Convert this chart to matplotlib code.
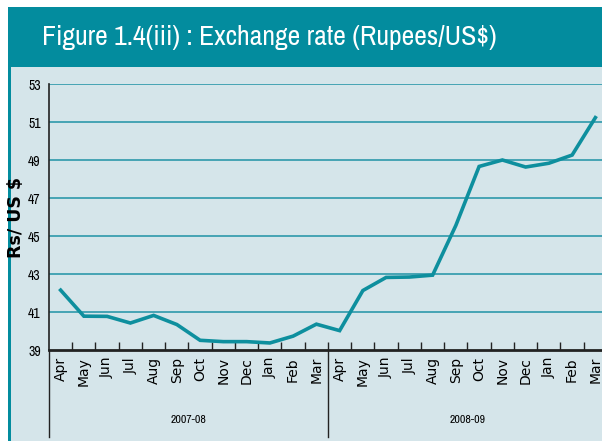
import matplotlib
matplotlib.use('Agg')
import matplotlib.pyplot as plt
from matplotlib.patches import Rectangle
from matplotlib import font_manager
import matplotlib.transforms as mtransforms

# Data
MONTHS = ['Apr', 'May', 'Jun', 'Jul', 'Aug', 'Sep',
          'Oct', 'Nov', 'Dec', 'Jan', 'Feb', 'Mar']
YEARS = ['2007-08', '2008-09']
RATE_0708 = [42.15, 40.78, 40.77, 40.42, 40.82, 40.34,
             39.51, 39.44, 39.44, 39.37, 39.73, 40.36]
RATE_0809 = [40.02, 42.13, 42.82, 42.84, 42.94, 45.56,
             48.66, 49.00, 48.63, 48.83, 49.26, 51.23]
Y_TICKS = [39, 41, 43, 45, 47, 49, 51, 53]

TEAL = '#038C9E'
PANEL = '#D5E5EA'
GRID = '#3A9FB0'
LINE = '#0E8F9E'

# narrow font if there is one
names = set(f.name for f in font_manager.fontManager.ttflist)
narrow = sorted(n for n in names if 'Narrow' in n or 'Condensed' in n)
NARROW = (narrow[:1] or ['Liberation Sans']) + ['DejaVu Sans']

W, H = 602, 441
fig = plt.figure(figsize=(W / 100, H / 100), dpi=100)
fig.patch.set_facecolor('white')

# panel + banner
fig.patches.append(Rectangle((9 / W, 0), 1, 1 - 67 / H, transform=fig.transFigure,
                             facecolor=PANEL, edgecolor='none', zorder=-5))
fig.patches.append(Rectangle((8 / W, 0), 3 / W, 1 - 67 / H, transform=fig.transFigure,
                             facecolor=TEAL, edgecolor='none', zorder=-5))
fig.patches.append(Rectangle((8 / W, 1 - 67 / H), 1, 60 / H, transform=fig.transFigure,
                             facecolor=TEAL, edgecolor='none', zorder=-5))
fig.text(42 / W, 1 - 37 / H, 'Figure 1.4(iii) : Exchange rate (Rupees/US$)',
         color='white', fontsize=20, family=NARROW, va='center', ha='left')

# axes
ax = fig.add_axes([49 / W, (H - 350) / H, 558 / W, 266 / H])
ax.set_zorder(2)
ax.set_facecolor('none')

values = RATE_0708 + RATE_0809
labels = MONTHS + MONTHS
xs = list(range(len(values)))
ax.plot(xs, values, color=LINE, lw=2.6, solid_joinstyle='miter', zorder=3)

ax.set_xlim(-0.5, len(values) - 0.5)
ax.set_ylim(39, 53)
ax.set_yticks(Y_TICKS)
ax.set_yticklabels([str(t) for t in Y_TICKS], family=NARROW, fontsize=10)
for t in Y_TICKS[1:]:
    ax.axhline(t, color=GRID, lw=1.3, zorder=1)

ax.set_xticks(xs)
ax.set_xticklabels(labels, rotation=90, fontsize=10, family='DejaVu Sans')
ax.tick_params(axis='x', which='major', length=0, pad=5)
ax.set_xticks([i + 0.5 for i in range(len(values) - 1)], minor=True)
ax.tick_params(axis='x', which='minor', direction='in', length=6, width=1, color='#222222')
ax.tick_params(axis='y', length=0, pad=6)

for s in ['top', 'right']:
    ax.spines[s].set_visible(False)
ax.spines['bottom'].set_linewidth(2)
ax.spines['bottom'].set_color('#222222')
ax.spines['left'].set_linewidth(1.2)
ax.spines['left'].set_color('#222222')

# group separators and year labels
trans = mtransforms.blended_transform_factory(ax.transData, ax.transAxes)
for xv in [-0.5, 11.5]:
    ax.plot([xv, xv], [0, -87 / 266], color='#222222', lw=1, transform=trans, clip_on=False)
for k, yr in enumerate(YEARS):
    ax.text(k * 12 + 5.5, -70 / 266, yr, transform=trans, ha='center', va='center',
            fontsize=8.5, family=NARROW)

ax.set_ylabel('Rs/ US $', fontsize=12.5, fontweight='bold', family='DejaVu Sans')
ax.yaxis.set_label_coords(-24 / 558, 0.5)

fig.savefig('out.png', dpi=100)
